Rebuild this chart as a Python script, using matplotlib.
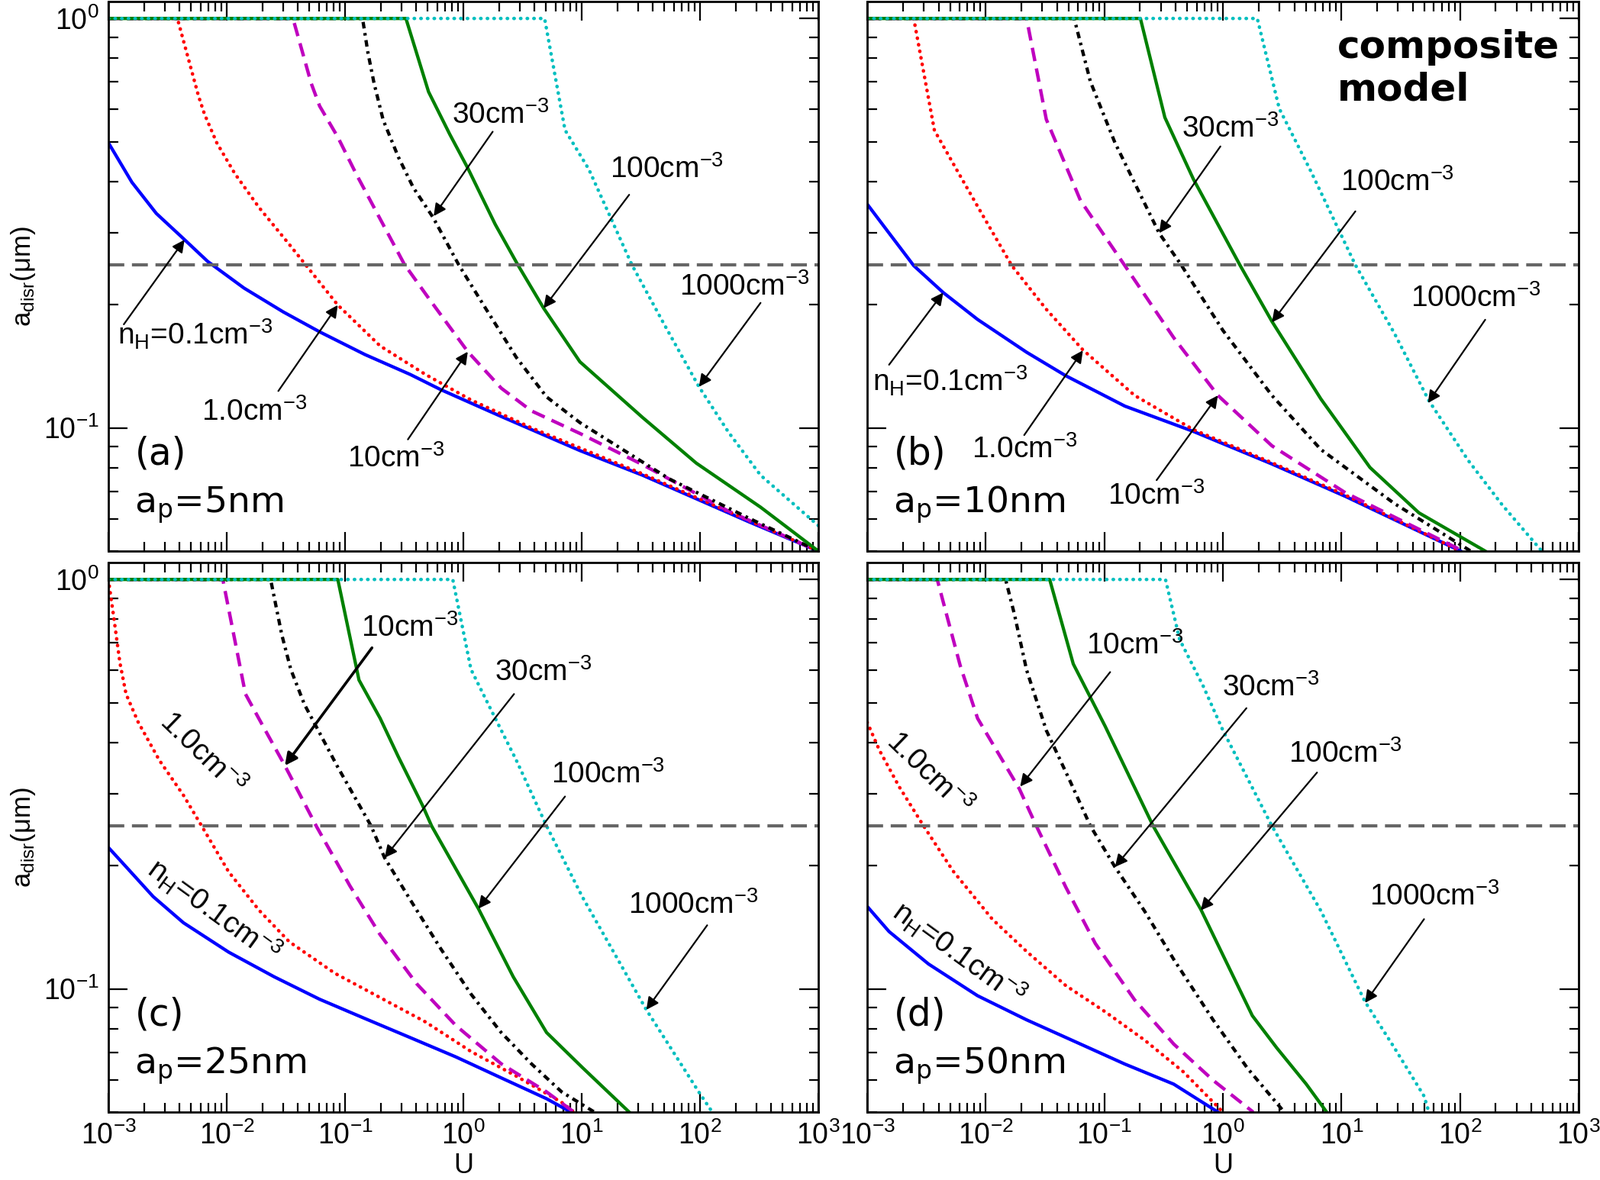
import numpy as np
import matplotlib.pyplot as plt
from matplotlib.ticker import LogLocator, NullFormatter

# ---- data: a_disr (um) versus U, for each n_H ----
# panel (a), a_p = 5 nm
U5_01 = [1e-3, 1.58e-3, 2.54e-3, 4.3e-3, 6.9e-3, 0.014, 0.030, 0.061, 0.1475, 0.356, 0.643, 2.09, 9.66, 32.7, 264, 1000]
A5_01 = [0.497, 0.398, 0.334, 0.290, 0.255, 0.2195, 0.192, 0.1716, 0.151, 0.135, 0.124, 0.1066, 0.088, 0.0766, 0.0588, 0.05]
U5_1 = [1e-3, 3.83e-3, 5.78e-3, 6.5e-3, 8.24e-3, 0.0117, 0.0188, 0.0338, 0.0869, 0.198, 0.479, 1.16, 3.76, 32.7, 264, 1000]
A5_1 = [1.0, 1.0, 0.646, 0.583, 0.497, 0.418, 0.345, 0.2806, 0.1995, 0.1585, 0.135, 0.117, 0.100, 0.0772, 0.0592, 0.05]
U5_10 = [1e-3, 0.0363, 0.0518, 0.061, 0.0869, 0.1237, 0.198, 0.317, 0.508, 1.09, 2.09, 3.76, 9.66, 32.7, 174, 1000]
A5_10 = [1.0, 1.0, 0.694, 0.611, 0.513, 0.418, 0.3238, 0.251, 0.2075, 0.1535, 0.125, 0.110, 0.0969, 0.0813, 0.0626, 0.05]
U5_30 = [1e-3, 0.1406, 0.156, 0.176, 0.21, 0.282, 0.378, 0.555, 0.915, 1.556, 2.80, 5.05, 9.66, 55.2, 264, 1000]
A5_30 = [1.0, 1.0, 0.826, 0.694, 0.565, 0.459, 0.386, 0.3265, 0.25, 0.195, 0.1487, 0.119, 0.103, 0.075, 0.060, 0.05]
U5_100 = [1e-3, 0.327, 0.508, 0.767, 1.09, 1.86, 2.89, 4.77, 9.66, 32.7, 93, 325, 1000]
A5_100 = [1.0, 1.0, 0.662, 0.5215, 0.431, 0.314, 0.25, 0.196, 0.145, 0.106, 0.082, 0.064, 0.05]
U5_1000 = [1e-3, 4.86, 7.23, 11.5, 26.6, 49.8, 98, 174, 325, 1000]
A5_1000 = [1.0, 1.0, 0.534, 0.428, 0.25, 0.179, 0.126, 0.0976, 0.0766, 0.0577]

# panel (b), a_p = 10 nm
U10_01 = [1e-3, 1.53e-3, 2.47e-3, 4.38e-3, 8.53e-3, 0.0221, 0.0474, 0.149, 0.564, 2.59, 10.8, 101]
A10_01 = [0.352, 0.299, 0.249, 0.214, 0.184, 0.153, 0.134, 0.113, 0.098, 0.0816, 0.068, 0.05]
U10_1 = [1e-3, 2.47e-3, 3.69e-3, 5.82e-3, 9.4e-3, 0.0166, 0.0323, 0.066, 0.18, 0.564, 2.59, 10.8, 101]
A10_1 = [1.0, 1.0, 0.533, 0.422, 0.331, 0.249, 0.195, 0.155, 0.12, 0.099, 0.0822, 0.0685, 0.05]
U10_10 = [1e-3, 0.0221, 0.0324, 0.063, 0.149, 0.385, 0.908, 2.59, 10.8, 106]
A10_10 = [1.0, 1.0, 0.567, 0.359, 0.249, 0.166, 0.12, 0.0904, 0.0694, 0.05]
U10_30 = [1e-3, 0.0557, 0.0763, 0.123, 0.29, 0.445, 1.0, 2.59, 6.71, 28, 123]
A10_30 = [1.0, 1.0, 0.701, 0.497, 0.299, 0.25, 0.173, 0.12, 0.0885, 0.0653, 0.05]
U10_100 = [1e-3, 0.2015, 0.324, 0.564, 1.39, 2.59, 6.71, 17.4, 45, 163]
A10_100 = [1.0, 1.0, 0.573, 0.405, 0.25, 0.182, 0.1176, 0.080, 0.062, 0.05]
U10_1000 = [1e-3, 1.95, 2.99, 5.55, 13.1, 28, 54.6, 117, 228, 489]
A10_1000 = [1.0, 1.0, 0.602, 0.422, 0.25, 0.170, 0.1165, 0.0833, 0.0647, 0.05]

# panel (c), a_p = 25 nm
U25_01 = [1e-3, 1.41e-3, 2.39e-3, 4.31e-3, 0.0104, 0.0252, 0.061, 0.1475, 0.356, 0.863, 2.09, 5.05, 8.1]
A25_01 = [0.2215, 0.1987, 0.168, 0.145, 0.1229, 0.107, 0.0943, 0.0846, 0.076, 0.0682, 0.0606, 0.0539, 0.05]
U25_1 = [1e-3, 1.11e-3, 1.25e-3, 1.41e-3, 1.78e-3, 2.69e-3, 4.31e-3, 6.14e-3, 0.0104, 0.0188, 0.0338, 0.0818, 0.198, 0.479, 1.16, 2.8, 6.78, 8.6]
A25_1 = [1.0, 0.809, 0.627, 0.525, 0.449, 0.362, 0.297, 0.25, 0.193, 0.1555, 0.1303, 0.1092, 0.0952, 0.0830, 0.0703, 0.0612, 0.0528, 0.05]
U25_10 = [1e-3, 9.27e-3, 0.0144, 0.0211, 0.031, 0.0575, 0.11, 0.198, 0.402, 0.863, 2.09, 5.05, 8.6]
A25_10 = [1.0, 1.0, 0.525, 0.429, 0.351, 0.249, 0.1784, 0.1356, 0.103, 0.0814, 0.0656, 0.056, 0.05]
U25_30 = [1e-3, 0.0235, 0.0292, 0.0348, 0.0454, 0.0869, 0.166, 0.216, 0.356, 0.643, 1.16, 2.09, 3.76, 6.78, 12.8]
A25_30 = [1.0, 1.0, 0.733, 0.603, 0.495, 0.3478, 0.25, 0.209, 0.165, 0.1254, 0.0971, 0.0782, 0.0656, 0.056, 0.05]
U25_100 = [1e-3, 0.0869, 0.1312, 0.198, 0.282, 0.452, 0.539, 1.34, 2.64, 5.05, 10.1, 25.2]
A25_100 = [1.0, 1.0, 0.568, 0.458, 0.369, 0.2805, 0.25, 0.157, 0.107, 0.0782, 0.0643, 0.05]
U25_1000 = [1e-3, 0.814, 1.16, 1.86, 2.8, 5.05, 10.1, 35.2, 98, 127]
A25_1000 = [1.0, 1.0, 0.603, 0.458, 0.362, 0.25, 0.168, 0.0889, 0.0559, 0.05]

# panel (d), a_p = 50 nm
U50_01 = [1e-3, 1.53e-3, 3.29e-3, 8.53e-3, 0.0221, 0.0573, 0.149, 0.385, 0.908]
A50_01 = [0.159, 0.138, 0.115, 0.0962, 0.084, 0.0742, 0.0655, 0.0585, 0.05]
U50_1 = [1e-3, 1.27e-3, 1.86e-3, 2.99e-3, 5.3e-3, 0.01135, 0.0221, 0.0474, 0.1016, 0.218, 0.467, 1.0]
A50_1 = [0.448, 0.3824, 0.3118, 0.25, 0.194, 0.148, 0.1234, 0.1018, 0.0879, 0.075, 0.0626, 0.05]
U50_10 = [1e-3, 3.9e-3, 4.8e-3, 6.1e-3, 8.53e-3, 0.0192, 0.0267, 0.0474, 0.084, 0.18, 0.385, 0.826, 1.80]
A50_10 = [1.0, 1.0, 0.797, 0.615, 0.458, 0.308, 0.25, 0.177, 0.129, 0.094, 0.0733, 0.0598, 0.05]
U50_30 = [1e-3, 0.0147, 0.0174, 0.0221, 0.0324, 0.0521, 0.0763, 0.123, 0.218, 0.385, 0.826, 1.61, 3.29]
A50_30 = [1.0, 1.0, 0.825, 0.601, 0.428, 0.319, 0.25, 0.1985, 0.155, 0.118, 0.084, 0.064, 0.05]
U50_100 = [1e-3, 0.0346, 0.0547, 0.1016, 0.258, 0.65, 1.77, 2.85, 5.05, 7.5]
A50_100 = [1.0, 1.0, 0.622, 0.438, 0.25, 0.1565, 0.086, 0.0717, 0.0585, 0.05]
U50_1000 = [1e-3, 0.328, 0.432, 0.682, 1.0, 2.59, 6.71, 15.8, 28, 49.7, 54.6]
A50_1000 = [1.0, 1.0, 0.713, 0.549, 0.428, 0.25, 0.155, 0.093, 0.0717, 0.0547, 0.05]

a_line = 0.25          # horizontal reference line
grain_sizes = ['5', '10', '25', '50']
tags = ['(a)', '(b)', '(c)', '(d)']

# ---- annotation placement: (label, text centre, arrow start, arrow tip) ----
notes5 = [('30', (2.07, 0.579), (1.77, 0.529), (0.561, 0.329)),
          ('100', (52.4, 0.428), (25.2, 0.371), (4.76, 0.196)),
          ('1000', (238, 0.221), (325, 0.202), (98, 0.126)),
          ('n$_H$=0.1', (5.42e-3, 0.169), (1.35e-3, 0.179), (4.4e-3, 0.288)),
          ('1.0', (0.0171, 0.109), (0.0273, 0.123), (0.0869, 0.1995)),
          ('10', (0.27, 0.0839), (0.34, 0.0937), (1.09, 0.1535))]
notes10 = [('30', (1.15, 0.538), (0.953, 0.487), (0.29, 0.299)),
           ('100', (29.4, 0.397), (13.1, 0.338), (2.59, 0.181)),
           ('1000', (135, 0.2075), (163, 0.1837), (53.6, 0.115)),
           ('n$_H$=0.1', (5.05e-3, 0.130), (1.53e-3, 0.1426), (4.38e-3, 0.214)),
           ('1.0', (0.0211, 0.0885), (0.0211, 0.096), (0.066, 0.1546)),
           ('10', (0.276, 0.068), (0.276, 0.0745), (0.908, 0.12))]
notes25 = [('10', (0.351, 0.762), (0.169, 0.681), (0.031, 0.351)),
           ('30', (4.75, 0.594), (2.68, 0.525), (0.216, 0.209)),
           ('100', (16.6, 0.334), (7.23, 0.295), (1.34, 0.157)),
           ('1000', (88.3, 0.16), (115, 0.143), (35.2, 0.0889))]
notes50 = [('10', (0.18, 0.689), (0.112, 0.594), (0.0195, 0.312)),
           ('30', (2.54, 0.543), (1.58, 0.485), (0.123, 0.1985)),
           ('100', (10.8, 0.374), (6.22, 0.3376), (0.65, 0.1555)),
           ('1000', (61.2, 0.1675), (49.7, 0.148), (15.8, 0.0924))]
# rotated labels lying along the curves in (c) and (d)
along25 = [('1.0', (6.2e-3, 0.3755), -44), ('n$_H$=0.1', (7.8e-3, 0.155), -36)]
along50 = [('1.0', (3.3e-3, 0.335), -44), ('n$_H$=0.1', (5.95e-3, 0.122), -36)]

plt.rcParams['font.family'] = ['Liberation Sans', 'DejaVu Sans']
plt.rcParams['mathtext.default'] = 'regular'

styles = [dict(color='#0000ff', ls='-', lw=3.1),
          dict(color='#ff0000', ls=(0, (0.1, 1.8)), lw=3.3, dash_capstyle='round'),
          dict(color='#bf00bf', ls=(0, (4.0, 2.2)), lw=3.2),
          dict(color='k', ls=(0, (2.0, 1.4, 0.8, 1.4)), lw=3.1),
          dict(color='#008000', ls='-', lw=3.1),
          dict(color='#00bfbf', ls=(0, (0.1, 1.8)), lw=3.3, dash_capstyle='round')]

panels = [
    [(U5_01, A5_01), (U5_1, A5_1), (U5_10, A5_10), (U5_30, A5_30), (U5_100, A5_100), (U5_1000, A5_1000)],
    [(U10_01, A10_01), (U10_1, A10_1), (U10_10, A10_10), (U10_30, A10_30), (U10_100, A10_100), (U10_1000, A10_1000)],
    [(U25_01, A25_01), (U25_1, A25_1), (U25_10, A25_10), (U25_30, A25_30), (U25_100, A25_100), (U25_1000, A25_1000)],
    [(U50_01, A50_01), (U50_1, A50_1), (U50_10, A50_10), (U50_30, A50_30), (U50_100, A50_100), (U50_1000, A50_1000)],
]
all_notes = [notes5, notes10, notes25, notes50]
all_along = [[], [], along25, along50]

W, H = 2096, 1546
fig = plt.figure(figsize=(W / 100, H / 100), dpi=100)
boxes = [[142 / W, 1 - 722 / H, 930 / W, 720 / H],
         [1136 / W, 1 - 722 / H, 932 / W, 720 / H],
         [142 / W, 1 - 1457 / H, 930 / W, 720 / H],
         [1136 / W, 1 - 1457 / H, 932 / W, 720 / H]]

for i in range(4):
    ax = fig.add_axes(boxes[i])
    for (u, a), st in zip(panels[i], styles):
        ax.plot(u, a, **st)
    ax.axhline(a_line, color='#666666', lw=3, ls=(0, (5, 2.4)))

    ax.set_xscale('log')
    ax.set_yscale('log')
    ax.set_xlim(1e-3, 1e3)
    ax.set_ylim(0.05, 1.1)
    for axis in (ax.xaxis, ax.yaxis):
        axis.set_major_locator(LogLocator(base=10, numticks=20))
        axis.set_minor_locator(LogLocator(base=10, subs=np.arange(2, 10), numticks=20))
        axis.set_minor_formatter(NullFormatter())
    ax.tick_params(which='major', direction='in', length=18, width=1.6,
                   top=True, right=True, labelsize=27, pad=9)
    ax.tick_params(which='minor', direction='in', length=9, width=1.6,
                   top=True, right=True)
    for sp in ax.spines.values():
        sp.set_linewidth(2)

    left = i % 2 == 0
    bottom = i >= 2
    ax.tick_params(labelleft=left, labelbottom=bottom)
    if left:
        ax.set_ylabel('a$_{disr}$(μm)', fontsize=25)
        ax.yaxis.set_label_coords(-0.1, 0.5)
    if bottom:
        ax.set_xlabel('U', fontsize=26, labelpad=2)

    for lab, txy, start, tip in all_notes[i]:
        ax.text(txy[0], txy[1], lab + 'cm$^{-3}$', fontsize=28,
                ha='center', va='center')
        thick = 2.6 if (i == 2 and lab == '10') else 1.6
        ax.annotate('', xy=tip, xytext=start,
                    arrowprops=dict(arrowstyle='-|>', color='k', lw=thick,
                                    mutation_scale=24, shrinkA=0, shrinkB=0))
    for lab, txy, rot in all_along[i]:
        ax.text(txy[0], txy[1], lab + 'cm$^{-3}$', fontsize=28, rotation=rot,
                rotation_mode='anchor', ha='center', va='center')

    ax.text(0.037, 0.157, tags[i], transform=ax.transAxes, fontsize=35,
            family='DejaVu Sans', va='baseline')
    ax.text(0.037, 0.07, 'a$_p$=' + grain_sizes[i] + 'nm', transform=ax.transAxes,
            fontsize=34, family='DejaVu Sans', va='baseline')
    if i == 1:
        ax.text(0.661, 0.95, 'composite\nmodel', transform=ax.transAxes,
                fontsize=36, fontweight='bold', family='DejaVu Sans', va='top')

fig.savefig('out.png', dpi=100)
